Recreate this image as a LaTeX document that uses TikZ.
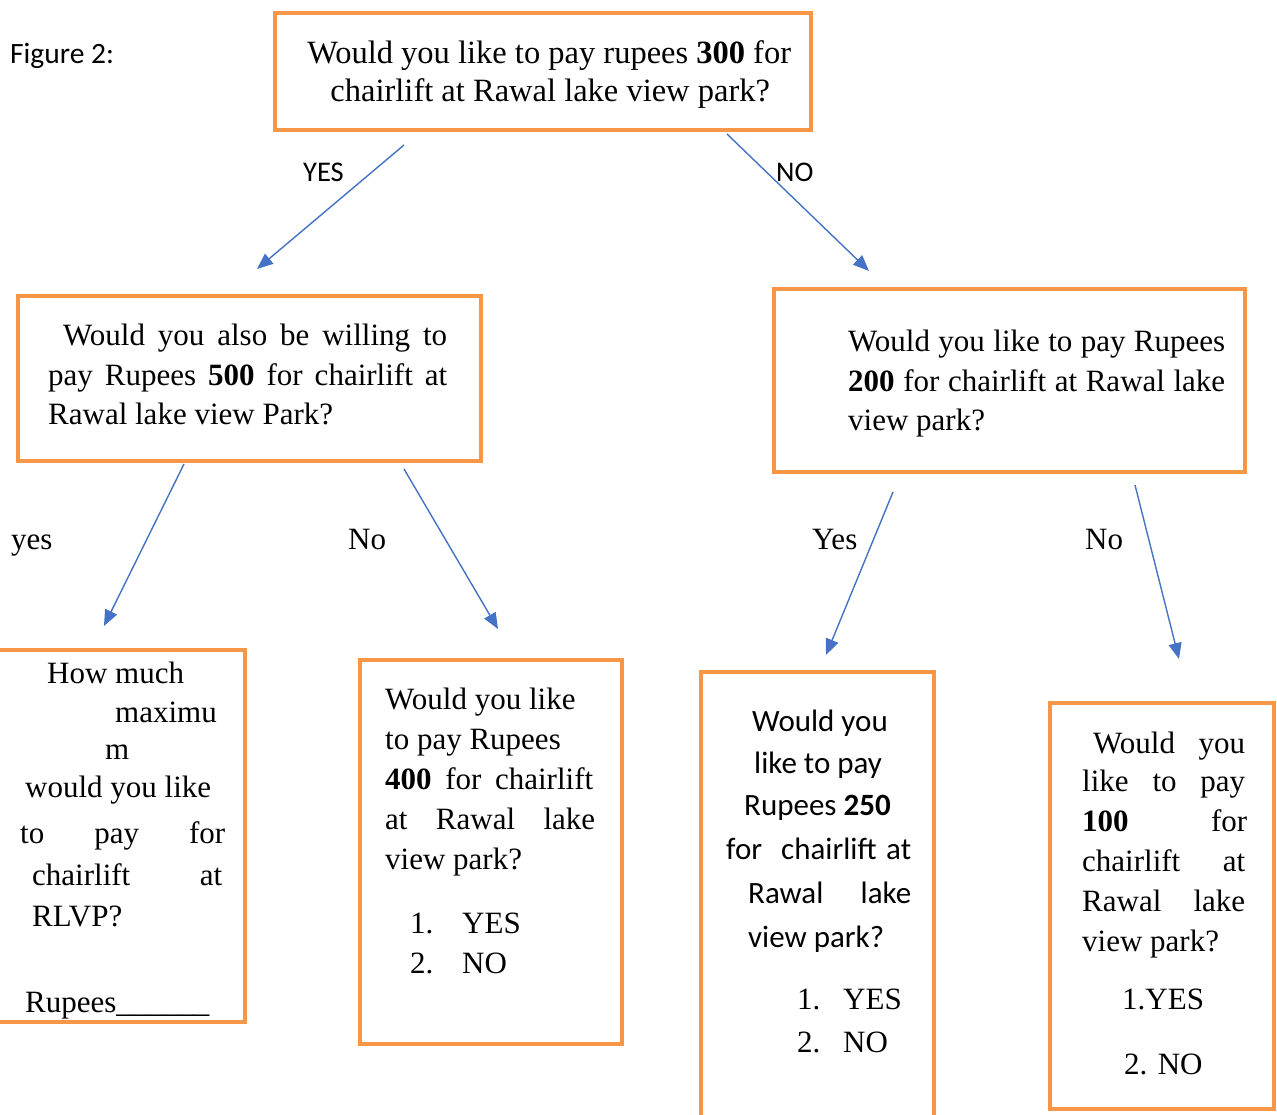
\documentclass[tikz,border=0pt]{standalone}
\usepackage{fontspec}
\setmainfont{Liberation Serif}
\newfontfamily\calib{Carlito}
\usetikzlibrary{arrows.meta}
\definecolor{boxor}{HTML}{F79646}
\definecolor{arrbl}{HTML}{4472C4}
\newcommand\qTx[1]{\vtop{\baselineskip=0pt\lineskip=0pt\lineskiplimit=-1000pt #1}}
\newcommand\qFst[2]{\hbox{\hskip#1pt\relax #2}}
\newcommand\qFSp[3]{\hbox{\hskip#1pt\relax\hbox to #2pt{#3}}}
\newcommand\qLn[3]{\vskip#1pt\relax\hbox{\hskip#2pt\relax #3}}
\newcommand\qSp[4]{\vskip#1pt\relax\hbox{\hskip#2pt\relax\hbox to #3pt{#4}}}
\tikzset{
  qbox/.style={draw=boxor, line width=4pt, inner sep=0pt, outer sep=0pt, anchor=north west},
  qtxt/.style={inner sep=0pt, anchor=base west, font=\fontsize{31}{38}\selectfont},
  qlab/.style={inner sep=0pt, anchor=base west, font=\fontsize{31}{38}\selectfont},
  qclab/.style={inner sep=0pt, anchor=base west, font=\calib\fontsize{28.5}{34}\selectfont},
  qarr/.style={draw=arrbl, line width=1.4pt, -{Triangle[length=16pt,width=13pt]}}
}
\begin{document}
\begin{tikzpicture}[x=1pt,y=-1pt]
\useasboundingbox (0,0) rectangle (1277,1115);
% boxes
\node[qbox, minimum width=536, minimum height=117] (b0) at (275,13) {};
\node[qbox, minimum width=463, minimum height=165] (b1) at (18,296) {};
\node[qbox, minimum width=471, minimum height=183] (b2) at (774,289) {};
\node[qbox, minimum width=251, minimum height=372] (b3) at (-6,650) {};
\node[qbox, minimum width=262, minimum height=384] (b4) at (360,660) {};
\node[qbox, minimum width=233, minimum height=460] (b5) at (701,672) {};
\node[qbox, minimum width=224, minimum height=406] (b6) at (1050,703) {};
% texts
\node[qtxt, font=\fontsize{32.5}{38}\selectfont] (t0) at (275,64) {\qTx{%
  \qFst{0}{\hbox to 548pt{\hfil Would you like to pay rupees \textbf{300} for\hfil}}
  \qLn{38}{0}{\hbox to 550pt{\hfil chairlift at Rawal lake view park?\hfil}}}};
\node[qtxt] (t1) at (18,345) {\qTx{%
  \qFSp{45}{384}{Would you also be willing to}
  \qSp{40}{30}{399}{pay Rupees \textbf{500} for chairlift at}
  \qLn{39}{30}{Rawal lake view Park?}}};
\node[qtxt] (t2) at (774,351) {\qTx{%
  \qFSp{74}{377}{Would you like to pay Rupees}
  \qSp{40}{74}{377}{\textbf{200} for chairlift at Rawal lake}
  \qLn{40}{74}{view park?}}};
\node[qtxt] (t3) at (0,683) {\qTx{%
  \qFst{47}{How much}
  \qLn{39}{115}{maximu}
  \qLn{37}{105}{m}
  \qLn{38}{25}{would you like}
  \qSp{46}{20}{205}{to pay for}
  \qSp{42}{32}{190}{chairlift at}
  \qLn{41}{32}{RLVP?}
  \qLn{86}{25}{Rupees\_\_\_\_\_\_}}};
\node[qtxt] (t4) at (360,709) {\qTx{%
  \qFst{25}{Would you like}
  \qLn{40}{25}{to pay Rupees}
  \qSp{40}{25}{208}{\textbf{400} for chairlift}
  \qSp{40}{25}{210}{at Rawal lake}
  \qLn{40}{25}{view park?}
  \qLn{64}{50}{\hbox to 52pt{1.\hfil}YES}
  \qLn{40}{50}{\hbox to 52pt{2.\hfil}NO}}};
\node[qtxt] (t5) at (701,731) {\qTx{%
  \qFst{51}{\calib Would you}
  \qLn{42}{53}{\calib like to pay}
  \qLn{42}{43}{\calib Rupees \textbf{250}}
  \qSp{44}{25}{185}{\calib for\ \ chairlift at}
  \qSp{44}{47}{163}{\calib Rawal lake}
  \qLn{44}{47}{\calib view park?}
  \qLn{62}{96}{\hbox to 46pt{1.\hfil}YES}
  \qLn{43}{96}{\hbox to 46pt{2.\hfil}NO}}};
\node[qtxt] (t6) at (1050,753) {\qTx{%
  \qFSp{43}{152}{Would you}
  \qSp{38}{32}{163}{like to pay}
  \qSp{40}{32}{165}{\textbf{100} for}
  \qSp{40}{32}{163}{chairlift at}
  \qSp{40}{32}{163}{Rawal lake}
  \qLn{40}{32}{view park?}
  \qLn{58}{72}{1.YES}
  \qLn{65}{74}{2. NO}}};
% labels
\node[qclab, font=\calib\fontsize{29.5}{34}\selectfont] (fig) at (10,64) {Figure 2:};
\node[qclab] (lyes) at (303,182) {YES};
\node[qclab] (lno) at (776,182) {NO};
\node[qlab] (lyes2) at (11,549) {yes};
\node[qlab] (lno2) at (348,549) {No};
\node[qlab] (lyes3) at (812,549) {Yes};
\node[qlab] (lno3) at (1085,549) {No};
% arrows
\coordinate (a1s) at (404,145); \coordinate (a1e) at (257,269);
\coordinate (a2s) at (727,134); \coordinate (a2e) at (869,271);
\coordinate (a3s) at (184,464); \coordinate (a3e) at (104,626);
\coordinate (a4s) at (404,469); \coordinate (a4e) at (498,629);
\coordinate (a5s) at (893,492); \coordinate (a5e) at (826,655);
\coordinate (a6s) at (1135,485); \coordinate (a6e) at (1179,659);
\draw[qarr] (a1s) -- (a1e);
\draw[qarr] (a2s) -- (a2e);
\draw[qarr] (a3s) -- (a3e);
\draw[qarr] (a4s) -- (a4e);
\draw[qarr] (a5s) -- (a5e);
\draw[qarr] (a6s) -- (a6e);
\end{tikzpicture}
\end{document}
